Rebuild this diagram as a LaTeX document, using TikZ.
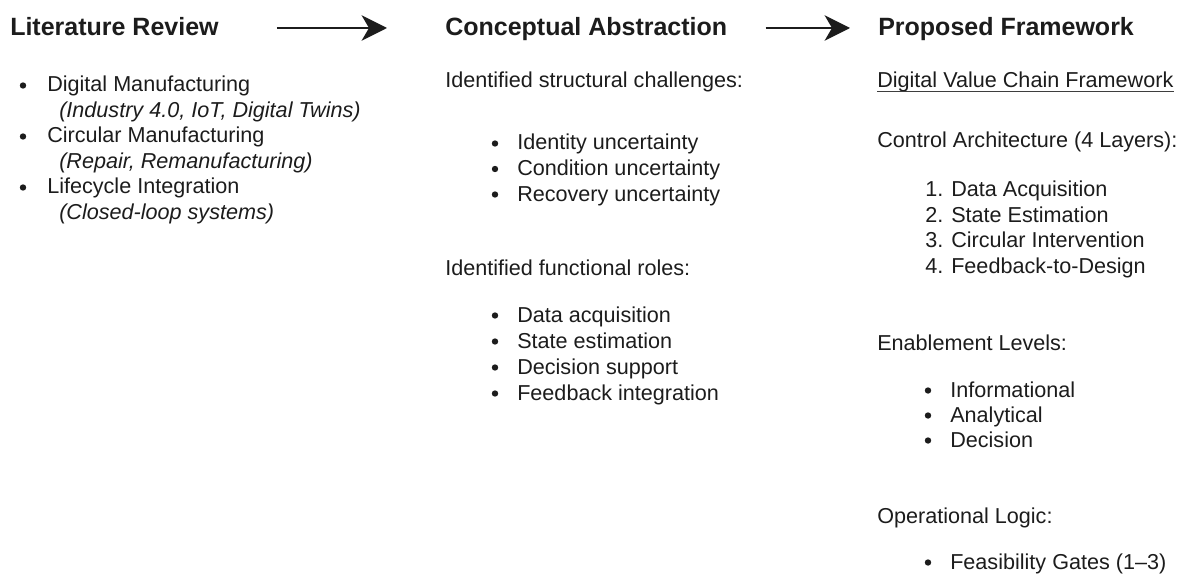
\documentclass[tikz,border=0pt]{standalone}
\usepackage{fontspec}
\setmainfont{Liberation Sans}
\usetikzlibrary{arrows.meta,positioning}
\definecolor{ink}{RGB}{28,28,28}
\tikzset{
  >={Stealth[length=19pt,width=19pt,inset=5.5pt]},
  head/.style={font=\fontsize{18.75}{22}\selectfont\bfseries,text=ink,inner sep=0pt,anchor=base west},
  txt/.style={font=\fontsize{16.2}{19}\selectfont,text=ink,inner sep=0pt,anchor=base west},
  sub/.style={txt,font=\fontsize{16.2}{19}\selectfont\itshape},
  dot/.style={circle,fill=ink,inner sep=0pt,minimum size=4.8pt},
  flow/.style={->,line width=2pt,draw=ink},
}
\begin{document}
\begin{tikzpicture}[x=0.75pt,y=-0.75pt]
  \useasboundingbox (0,0) rectangle (1181,574);
  % stage headings
  \node[head] (lit) at (10,36) {Literature Review};
  \node[head] (con) at (445,36) {Conceptual Abstraction};
  \node[head] (pro) at (878,36) {Proposed Framework};
  \draw[flow,shorten <=43.5pt,shorten >=43.5pt] ([yshift=6pt]lit.base east) -- ([yshift=6pt]con.base west);
  \draw[flow,shorten <=28.5pt,shorten >=21pt] ([yshift=6pt]con.base east) -- ([yshift=6pt]pro.base west);
  % literature review
  \foreach \t/\s/\y [count=\i] in {Digital Manufacturing/{(Industry 4.0, IoT, Digital Twins)}/92,
    Circular Manufacturing/{(Repair, Remanufacturing)}/143,
    Lifecycle Integration/{(Closed-loop systems)}/194}{
    \node[dot] (lrb\i) at (23,\y-6.5) {};
    \node[txt] (lr\i) at (47,\y) {\t};
    \node[sub] (lrs\i) at (59,\y+25.5) {\s};
  }
  % conceptual abstraction
  \node[txt] (chl) at (445,88) {Identified structural challenges:};
  \foreach \t/\y [count=\i] in {Identity uncertainty/150,Condition uncertainty/175.5,Recovery uncertainty/201}{
    \node[dot] (chb\i) at (495,\y-6.5) {};
    \node[txt] (ch\i) at (517,\y) {\t};
  }
  \node[txt] (rol) at (445,275) {Identified functional roles:};
  \foreach \t/\y [count=\i] in {Data acquisition/322,State estimation/348,Decision support/374,Feedback integration/400}{
    \node[dot] (rob\i) at (495,\y-6.5) {};
    \node[txt] (ro\i) at (517,\y) {\t};
  }
  % proposed framework
  \node[txt] (dvc) at (877,88) {Digital Value Chain Framework};
  \draw[ink!85,line width=1pt] ([yshift=-2.4pt]dvc.base west) -- ([yshift=-2.4pt]dvc.base east);
  \node[txt] (arc) at (877,148) {Control Architecture (4 Layers):};
  \foreach \t/\y [count=\i] in {Data Acquisition/196,State Estimation/222,Circular Intervention/247.5,Feedback-to-Design/273}{
    \node[txt] (lay\i) at (925,\y) {\i. \t};
  }
  \node[txt] (enl) at (877,350) {Enablement Levels:};
  \foreach \t/\y [count=\i] in {Informational/397,Analytical/422,Decision/447}{
    \node[dot] (enb\i) at (928,\y-6.5) {};
    \node[txt] (en\i) at (950,\y) {\t};
  }
  \node[txt] (opl) at (877,523) {Operational Logic:};
  \node[dot] (opb) at (928,562.5) {};
  \node[txt] (op1) at (950,569) {Feasibility Gates (1--3)};
\end{tikzpicture}
\end{document}
